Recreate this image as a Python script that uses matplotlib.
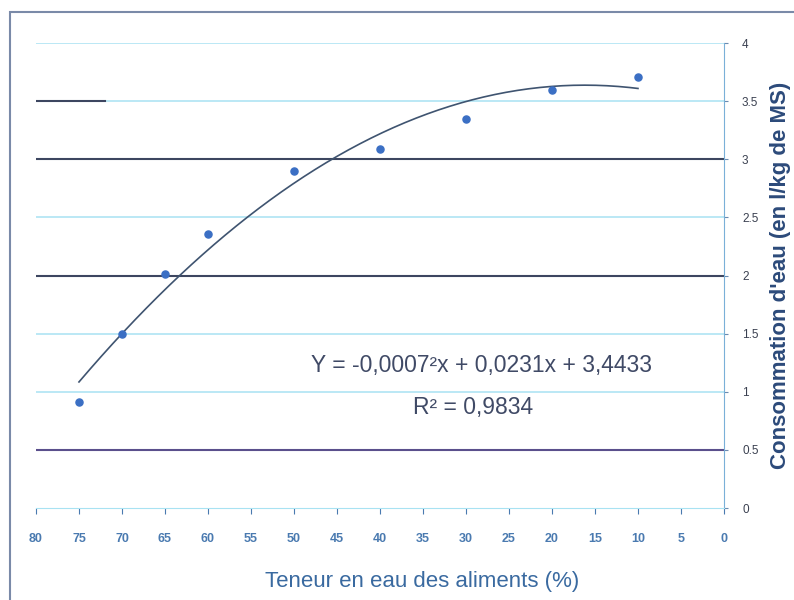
import numpy as np
import matplotlib.pyplot as plt
from matplotlib.patches import Rectangle

plt.rcParams['font.family'] = ['Liberation Sans', 'DejaVu Sans']

# data
teneur = [75, 70, 65, 60, 50, 40, 30, 20, 10]
conso = [0.91, 1.50, 2.01, 2.36, 2.90, 3.09, 3.35, 3.60, 3.71]
x_ticks = list(range(0, 85, 5))
y_ticks = [0, 0.5, 1, 1.5, 2, 2.5, 3, 3.5, 4]
y_tick_labels = ['0', '0.5', '1', '1.5', '2', '2.5', '3', '3.5', '4']
dark_lines = [0.5, 2, 3]
light_lines = [1, 1.5, 2.5, 3.5, 4]

fig = plt.figure(figsize=(7.94, 6.0), dpi=100)
ax = fig.add_axes([0.0453, 0.1533, 0.8665, 0.775])

# frame around the chart
fig.patches.append(Rectangle((0.013, -0.05), 1.1, 1.03, transform=fig.transFigure,
                             fill=False, edgecolor='#7a8aa8', lw=1.5))

for y in light_lines:
    ax.axhline(y, color='#a8e2f2', lw=1.1, zorder=1)
for y in dark_lines:
    c = '#5a4f8c' if y == 0.5 else '#3d4660'
    ax.axhline(y, color=c, lw=1.5, zorder=1)
ax.axhline(3.5, xmin=0, xmax=0.1, color='#3d4660', lw=1.5, zorder=1)

# quadratic trend line
coef = np.polyfit(teneur, conso, 2)
xs = np.linspace(max(teneur), min(teneur), 200)
ax.plot(xs, np.polyval(coef, xs), color='#3f5470', lw=1.2, zorder=2)

ax.scatter(teneur, conso, marker='o', s=26, color='#3b6fc4', zorder=3)

ax.set_xlim(80, 0)
ax.set_ylim(0, 4)
ax.set_xticks(x_ticks)
ax.set_yticks(y_ticks)
ax.set_yticklabels(y_tick_labels)
ax.yaxis.tick_right()
ax.yaxis.set_label_position('right')
ax.tick_params(axis='x', colors='#4a7ab0', labelsize=9, length=4, direction='out', pad=14)
ax.tick_params(axis='y', colors='#6a8ab0', labelcolor='#3a4050', labelsize=8.5, length=3, pad=10)
for lbl in ax.get_xticklabels():
    lbl.set_fontweight('bold')

for s in ['top', 'left']:
    ax.spines[s].set_visible(False)
ax.spines['right'].set_color('#7ab0d8')
ax.spines['bottom'].set_color('#a8e2f2')

ax.set_xlabel('Teneur en eau des aliments (%)', color='#3a6aa0', fontsize=16,
              ha='center', va='center')
ax.xaxis.set_label_coords(0.561, -0.159)
ax.set_ylabel("Consommation d'eau (en l/kg de MS)", color='#2c4a7a', fontsize=16,
              fontweight='bold', ha='center', va='center')
ax.yaxis.set_label_coords(1.082, 0.5)

ax.text(0.647, 0.3075, 'Y = -0,0007²x + 0,0231x + 3,4433', transform=ax.transAxes,
        ha='center', va='center', fontsize=16.5, color='#404a66')
ax.text(0.635, 0.217, 'R² = 0,9834', transform=ax.transAxes,
        ha='center', va='center', fontsize=16.5, color='#404a66')

fig.savefig('out.png', dpi=100)
